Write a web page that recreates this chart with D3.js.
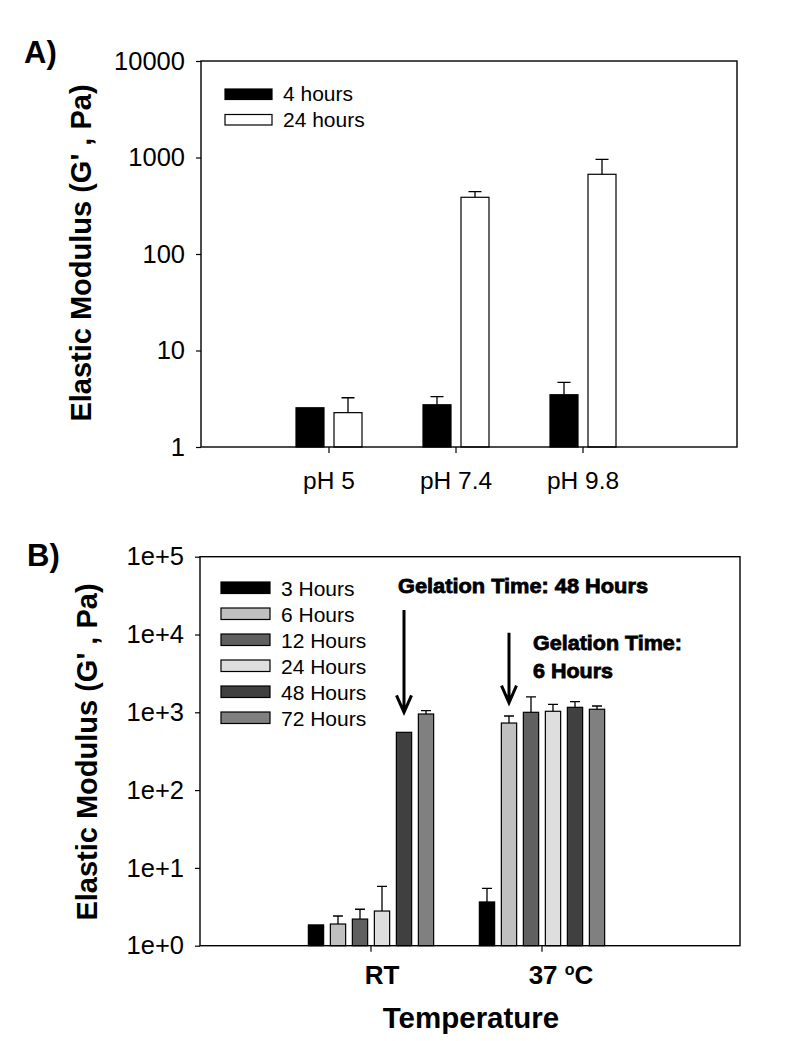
<!DOCTYPE html>
<html><head><meta charset="utf-8">
<script src="https://cdn.jsdelivr.net/npm/d3@7/dist/d3.min.js"></script>
<style>
body{margin:0;background:#fff;}
svg{display:block;font-family:"Liberation Sans",Arial,sans-serif;}
</style></head>
<body><svg id="c" width="792" height="1041"></svg>
<script>
// ---------- Panel A data ----------
const catsA = ["pH 5", "pH 7.4", "pH 9.8"];
const seriesA = ["4 hours", "24 hours"];
const valsA_4h = [2.55, 2.74, 3.48];
const errA_4h = [0, 0.58, 1.2];
const valsA_24h = [2.27, 387, 670];
const errA_24h = [0.97, 55, 288];
const colorsA = ["#000000", "#ffffff"];
const ticksA = [1, 10, 100, 1000, 10000];

// ---------- Panel B data ----------
const catsB = ["RT", "37 oC"];
const seriesB = ["3 Hours", "6 Hours", "12 Hours", "24 Hours", "48 Hours", "72 Hours"];
const valsB_RT = [1.85, 1.90, 2.20, 2.79, 553, 951];
const errB_RT = [0, 0.51, 0.74, 3.01, 0, 98];
const valsB_37 = [3.65, 728, 1000, 1031, 1159, 1094];
const errB_37 = [1.82, 168, 574, 236, 209, 111];
const colorsB = ["#000000", "#c0c0c0", "#606060", "#dedede", "#404040", "#808080"];
const ticksB = [1, 10, 100, 1000, 10000, 100000];
const arrowsB = [
  {cat: "RT", series: "48 Hours", from: 20600, to: 1000},
  {cat: "37 oC", series: "6 Hours", from: 10500, to: 1330}
];

const svg = d3.select("#c");
const FONT = "'Liberation Sans',Arial,sans-serif";

function drawPanel(o) {
  const g = svg.append("g");
  const y = d3.scaleLog().domain(o.yDomain).range([o.bottom, o.top]);
  const x0 = d3.scaleBand().domain(o.cats).range(o.catRange).padding(0);
  const x1 = d3.scaleBand().domain(o.series).range([-o.span / 2, o.span / 2])
    .paddingInner(o.padIn).paddingOuter(0);
  const rows = [];
  o.cats.forEach((c, ci) => o.series.forEach((s, si) => {
    rows.push({c, s, si, v: o.vals[ci][si], e: o.errs[ci][si]});
  }));
  const cx = d => x0(d.c) + x0.bandwidth() / 2 + x1(d.s);
  g.selectAll("rect.bar").data(rows).join("rect")
    .attr("x", cx).attr("width", x1.bandwidth())
    .attr("y", d => y(d.v)).attr("height", d => y(o.yDomain[0]) - y(d.v))
    .attr("fill", d => o.colors[d.si]).attr("stroke", "#000").attr("stroke-width", 1.2);
  const eb = rows.filter(d => d.e > 0);
  g.selectAll("path.err").data(eb).join("path")
    .attr("d", d => {
      const m = cx(d) + x1.bandwidth() / 2;
      const t = y(d.v + d.e);
      return `M${m},${y(d.v)}V${t}M${m - o.cap},${t}H${m + o.cap}`;
    })
    .attr("stroke", "#000").attr("stroke-width", 1.3).attr("fill", "none");
  g.append("rect").attr("x", o.left).attr("y", o.top)
    .attr("width", o.right - o.left).attr("height", o.bottom - o.top)
    .attr("fill", "none").attr("stroke", "#000").attr("stroke-width", 1.4);
  const ya = g.append("g").attr("transform", `translate(${o.left},0)`)
    .call(d3.axisLeft(y).tickValues(o.ticks).tickFormat(o.fmt).tickSize(5).tickSizeOuter(0));
  ya.select(".domain").remove();
  ya.selectAll("line").attr("stroke-width", 1.2);
  ya.selectAll("text").attr("font-family", FONT).attr("font-size", o.tickFont)
    .attr("fill", "#000").attr("x", -16);
  const xa = g.append("g").attr("transform", `translate(0,${o.bottom})`)
    .call(d3.axisBottom(x0).tickSize(6).tickSizeOuter(0));
  xa.select(".domain").remove();
  xa.selectAll("line").attr("stroke-width", 1.2);
  xa.selectAll("text").remove();
  return {g, y, x0, x1};
}

// ---------- Panel A ----------
const A = drawPanel({
  cats: catsA, series: seriesA,
  vals: catsA.map((c, i) => [valsA_4h[i], valsA_24h[i]]),
  errs: catsA.map((c, i) => [errA_4h[i], errA_24h[i]]),
  colors: colorsA, yDomain: [1, 10000], ticks: ticksA, fmt: d3.format("d"),
  left: 201, right: 737, top: 61, bottom: 447,
  catRange: [265.5, 646.5], span: 66, padIn: 10 / 38, cap: 6.5, tickFont: 25.5
});
A.g.selectAll("text.xl").data(catsA).join("text")
  .attr("x", d => A.x0(d) + A.x0.bandwidth() / 2).attr("y", 489)
  .attr("text-anchor", "middle").attr("font-family", FONT).attr("font-size", 24.5)
  .text(d => d);
const legA = svg.append("g");
seriesA.forEach((s, i) => {
  legA.append("rect").attr("x", 225).attr("y", 89 + i * 25.5).attr("width", 47).attr("height", 10.5)
    .attr("fill", colorsA[i]).attr("stroke", "#000").attr("stroke-width", 1.2);
  legA.append("text").attr("x", 283).attr("y", 101 + i * 25.5)
    .attr("font-family", FONT).attr("font-size", 21).text(s);
});
svg.append("text").attr("x", 24).attr("y", 63).attr("font-family", FONT)
  .attr("font-weight", "bold").attr("font-size", 31).text("A)");
svg.append("text").attr("transform", "translate(91,253) rotate(-90)")
  .attr("text-anchor", "middle").attr("font-family", FONT).attr("font-weight", "bold")
  .attr("font-size", 29).text("Elastic Modulus (G' , Pa)");

// ---------- Panel B ----------
const B = drawPanel({
  cats: catsB, series: seriesB,
  vals: [valsB_RT, valsB_37], errs: [errB_RT, errB_37],
  colors: colorsB, yDomain: [1, 100000], ticks: ticksB,
  fmt: d => "1e+" + Math.round(Math.log10(d)),
  left: 200, right: 740, top: 556.7, bottom: 945.7,
  catRange: [285.5, 627.5], span: 125.3, padIn: 0.305, cap: 5, tickFont: 25.5
});
const xlOff = [11, 19];
catsB.forEach((c, i) => {
  const t = B.g.append("text").attr("x", B.x0(c) + B.x0.bandwidth() / 2 + xlOff[i]).attr("y", 984)
    .attr("text-anchor", "middle").attr("font-family", FONT).attr("font-weight", "bold")
    .attr("font-size", 26);
  if (c === "37 oC") {
    t.append("tspan").text("37 ");
    t.append("tspan").attr("font-size", 16).attr("dy", -9).text("o");
    t.append("tspan").attr("dy", 9).text("C");
  } else t.text(c);
});
svg.append("text").attr("x", 471).attr("y", 1028).attr("text-anchor", "middle")
  .attr("font-family", FONT).attr("font-weight", "bold").attr("font-size", 29.5).text("Temperature");
const legB = svg.append("g");
seriesB.forEach((s, i) => {
  legB.append("rect").attr("x", 221).attr("y", 582 + i * 26).attr("width", 49).attr("height", 11.5)
    .attr("fill", colorsB[i]).attr("stroke", "#000").attr("stroke-width", 1.2);
  legB.append("text").attr("x", 281).attr("y", 596 + i * 26)
    .attr("font-family", FONT).attr("font-size", 21).text(s);
});
arrowsB.forEach(a => {
  const xm = B.x0(a.cat) + B.x0.bandwidth() / 2 + B.x1(a.series) + B.x1.bandwidth() / 2;
  const y0 = B.y(a.from), y1 = B.y(a.to);
  svg.append("path").attr("d", `M${xm},${y0}V${y1 - 1}M${xm - 7.5},${y1 - 17}L${xm},${y1}L${xm + 7.5},${y1 - 17}`)
    .attr("stroke", "#000").attr("stroke-width", 3).attr("fill", "none");
});
function boldNote(x, y, txt, len) {
  svg.append("text").attr("x", x).attr("y", y).attr("font-family", FONT).attr("font-weight", "bold")
    .attr("font-size", 21).attr("stroke", "#000").attr("stroke-width", 0.8)
    .attr("textLength", len).attr("lengthAdjust", "spacingAndGlyphs").text(txt);
}
boldNote(398, 593, "Gelation Time: 48 Hours", 250);
boldNote(533, 650, "Gelation Time:", 149);
boldNote(533, 678, "6 Hours", 80);
svg.append("text").attr("x", 27).attr("y", 566).attr("font-family", FONT)
  .attr("font-weight", "bold").attr("font-size", 31).text("B)");
svg.append("text").attr("transform", "translate(97,752) rotate(-90)")
  .attr("text-anchor", "middle").attr("font-family", FONT).attr("font-weight", "bold")
  .attr("font-size", 29).text("Elastic Modulus (G' , Pa)");
</script></body></html>
